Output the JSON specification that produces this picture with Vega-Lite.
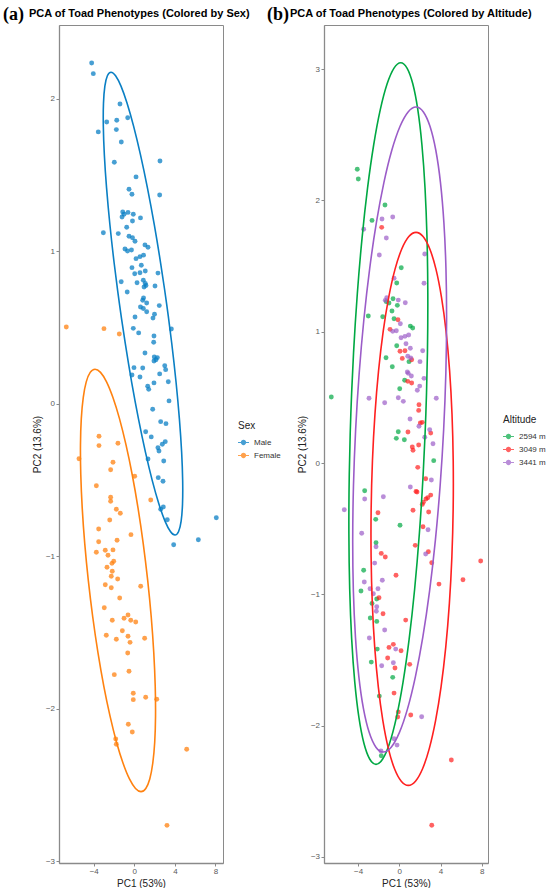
{
  "$schema": "https://vega.github.io/schema/vega-lite/v6.json",
  "autosize": {"type": "pad"},
  "padding": {"left": 3, "top": 5, "right": 5, "bottom": 4},
  "spacing": -14,
  "bounds": "full",
  "datasets": {
    "sexpts": [
      {"x": -4.20, "y": 2.236, "sex": "Male"}, {"x": -4.04, "y": 2.166, "sex": "Male"}, {"x": -1.41, "y": 1.967, "sex": "Male"},
      {"x": -2.72, "y": 1.849, "sex": "Male"}, {"x": -1.73, "y": 1.860, "sex": "Male"}, {"x": -0.65, "y": 1.877, "sex": "Male"},
      {"x": -3.55, "y": 1.784, "sex": "Male"}, {"x": -1.77, "y": 1.799, "sex": "Male"}, {"x": -1.28, "y": 1.718, "sex": "Male"},
      {"x": -1.97, "y": 1.585, "sex": "Male"}, {"x": 2.53, "y": 1.593, "sex": "Male"}, {"x": 0.17, "y": 1.489, "sex": "Male"},
      {"x": -0.52, "y": 1.408, "sex": "Male"}, {"x": -0.23, "y": 1.375, "sex": "Male"}, {"x": 2.50, "y": 1.370, "sex": "Male"},
      {"x": -1.14, "y": 1.259, "sex": "Male"}, {"x": -1.21, "y": 1.226, "sex": "Male"}, {"x": -1.01, "y": 1.244, "sex": "Male"},
      {"x": -0.62, "y": 1.256, "sex": "Male"}, {"x": -0.10, "y": 1.244, "sex": "Male"}, {"x": 0.61, "y": 1.220, "sex": "Male"},
      {"x": -0.18, "y": 1.200, "sex": "Male"}, {"x": -3.05, "y": 1.123, "sex": "Male"}, {"x": -1.58, "y": 1.117, "sex": "Male"},
      {"x": -0.75, "y": 1.159, "sex": "Male"}, {"x": -0.52, "y": 1.100, "sex": "Male"}, {"x": -0.18, "y": 1.090, "sex": "Male"},
      {"x": 0.07, "y": 1.067, "sex": "Male"}, {"x": -0.92, "y": 1.016, "sex": "Male"}, {"x": -0.67, "y": 1.003, "sex": "Male"},
      {"x": -0.28, "y": 1.010, "sex": "Male"}, {"x": 1.05, "y": 1.043, "sex": "Male"}, {"x": 1.35, "y": 1.028, "sex": "Male"},
      {"x": 0.17, "y": 0.953, "sex": "Male"}, {"x": 0.56, "y": 0.966, "sex": "Male"}, {"x": 0.91, "y": 0.976, "sex": "Male"},
      {"x": -0.23, "y": 0.894, "sex": "Male"}, {"x": 0.69, "y": 0.910, "sex": "Male"}, {"x": 0.04, "y": 0.854, "sex": "Male"},
      {"x": 0.56, "y": 0.860, "sex": "Male"}, {"x": 1.08, "y": 0.872, "sex": "Male"}, {"x": 2.33, "y": 0.858, "sex": "Male"},
      {"x": -1.29, "y": 0.801, "sex": "Male"}, {"x": 0.27, "y": 0.795, "sex": "Male"}, {"x": 0.89, "y": 0.811, "sex": "Male"},
      {"x": 1.08, "y": 0.790, "sex": "Male"}, {"x": 1.15, "y": 0.777, "sex": "Male"}, {"x": 0.96, "y": 0.767, "sex": "Male"},
      {"x": 2.04, "y": 0.774, "sex": "Male"}, {"x": -0.70, "y": 0.734, "sex": "Male"}, {"x": 0.91, "y": 0.695, "sex": "Male"},
      {"x": 0.83, "y": 0.680, "sex": "Male"}, {"x": 1.22, "y": 0.662, "sex": "Male"}, {"x": 2.46, "y": 0.645, "sex": "Male"},
      {"x": 0.61, "y": 0.636, "sex": "Male"}, {"x": 0.89, "y": 0.626, "sex": "Male"}, {"x": 1.22, "y": 0.605, "sex": "Male"},
      {"x": 1.99, "y": 0.588, "sex": "Male"}, {"x": 1.84, "y": 0.563, "sex": "Male"}, {"x": 0.07, "y": 0.570, "sex": "Male"},
      {"x": -0.10, "y": 0.496, "sex": "Male"}, {"x": 0.43, "y": 0.466, "sex": "Male"}, {"x": 3.65, "y": 0.492, "sex": "Male"},
      {"x": 1.94, "y": 0.446, "sex": "Male"}, {"x": 1.91, "y": 0.405, "sex": "Male"}, {"x": 1.05, "y": 0.334, "sex": "Male"},
      {"x": 1.97, "y": 0.308, "sex": "Male"}, {"x": 2.27, "y": 0.304, "sex": "Male"}, {"x": 1.94, "y": 0.282, "sex": "Male"},
      {"x": 2.14, "y": 0.290, "sex": "Male"}, {"x": 3.00, "y": 0.251, "sex": "Male"}, {"x": 3.09, "y": 0.225, "sex": "Male"},
      {"x": -0.03, "y": 0.238, "sex": "Male"}, {"x": 0.83, "y": 0.236, "sex": "Male"}, {"x": -0.23, "y": 0.190, "sex": "Male"},
      {"x": 0.56, "y": 0.177, "sex": "Male"}, {"x": 2.50, "y": 0.197, "sex": "Male"}, {"x": 1.94, "y": 0.138, "sex": "Male"},
      {"x": 3.35, "y": 0.146, "sex": "Male"}, {"x": 1.32, "y": 0.116, "sex": "Male"}, {"x": 1.42, "y": 0.096, "sex": "Male"},
      {"x": 3.42, "y": 0.020, "sex": "Male"}, {"x": 1.81, "y": -0.035, "sex": "Male"}, {"x": 2.60, "y": -0.116, "sex": "Male"},
      {"x": 3.12, "y": -0.129, "sex": "Male"}, {"x": 1.12, "y": -0.182, "sex": "Male"}, {"x": 1.67, "y": -0.216, "sex": "Male"},
      {"x": 3.05, "y": -0.247, "sex": "Male"}, {"x": 2.76, "y": -0.264, "sex": "Male"}, {"x": 2.33, "y": -0.287, "sex": "Male"},
      {"x": 2.43, "y": -0.308, "sex": "Male"}, {"x": 1.35, "y": -0.361, "sex": "Male"}, {"x": 2.90, "y": -0.374, "sex": "Male"},
      {"x": 2.36, "y": -0.483, "sex": "Male"}, {"x": 2.83, "y": -0.507, "sex": "Male"}, {"x": 2.86, "y": -0.675, "sex": "Male"},
      {"x": 2.60, "y": -0.690, "sex": "Male"}, {"x": 3.25, "y": -0.759, "sex": "Male"}, {"x": 3.88, "y": -0.923, "sex": "Male"},
      {"x": 6.31, "y": -0.890, "sex": "Male"}, {"x": 8.08, "y": -0.746, "sex": "Male"},
      {"x": -6.70, "y": 0.505, "sex": "Female"}, {"x": -2.99, "y": 0.494, "sex": "Female"}, {"x": -1.48, "y": 0.459, "sex": "Female"},
      {"x": -3.48, "y": -0.212, "sex": "Female"}, {"x": -3.48, "y": -0.273, "sex": "Female"}, {"x": -1.61, "y": -0.258, "sex": "Female"},
      {"x": -5.45, "y": -0.359, "sex": "Female"}, {"x": -2.10, "y": -0.382, "sex": "Female"}, {"x": -2.33, "y": -0.431, "sex": "Female"},
      {"x": 0.04, "y": -0.474, "sex": "Female"}, {"x": -3.74, "y": -0.536, "sex": "Female"}, {"x": -2.33, "y": -0.612, "sex": "Female"},
      {"x": -2.33, "y": -0.638, "sex": "Female"}, {"x": 1.62, "y": -0.630, "sex": "Female"}, {"x": -1.77, "y": -0.690, "sex": "Female"},
      {"x": -1.38, "y": -0.717, "sex": "Female"}, {"x": -2.42, "y": -0.761, "sex": "Female"}, {"x": -3.51, "y": -0.820, "sex": "Female"},
      {"x": -0.33, "y": -0.857, "sex": "Female"}, {"x": -3.51, "y": -0.903, "sex": "Female"}, {"x": -1.70, "y": -0.894, "sex": "Female"},
      {"x": -3.74, "y": -0.972, "sex": "Female"}, {"x": -2.86, "y": -0.959, "sex": "Female"}, {"x": -2.10, "y": -0.957, "sex": "Female"},
      {"x": -2.59, "y": -0.992, "sex": "Female"}, {"x": -2.03, "y": -1.031, "sex": "Female"}, {"x": -2.20, "y": -1.045, "sex": "Female"},
      {"x": -2.69, "y": -1.071, "sex": "Female"}, {"x": -2.17, "y": -1.097, "sex": "Female"}, {"x": -2.27, "y": -1.130, "sex": "Female"},
      {"x": -1.64, "y": -1.148, "sex": "Female"}, {"x": -2.86, "y": -1.185, "sex": "Female"}, {"x": -2.27, "y": -1.205, "sex": "Female"},
      {"x": 0.63, "y": -1.195, "sex": "Female"}, {"x": -1.44, "y": -1.272, "sex": "Female"}, {"x": -2.96, "y": -1.336, "sex": "Female"},
      {"x": -0.62, "y": -1.384, "sex": "Female"}, {"x": -1.01, "y": -1.405, "sex": "Female"}, {"x": -0.35, "y": -1.418, "sex": "Female"},
      {"x": 0.14, "y": -1.430, "sex": "Female"}, {"x": -2.17, "y": -1.418, "sex": "Female"}, {"x": -1.18, "y": -1.487, "sex": "Female"},
      {"x": -2.76, "y": -1.517, "sex": "Female"}, {"x": -1.77, "y": -1.543, "sex": "Female"}, {"x": -0.62, "y": -1.523, "sex": "Female"},
      {"x": -0.42, "y": -1.563, "sex": "Female"}, {"x": 1.02, "y": -1.536, "sex": "Female"}, {"x": -0.65, "y": -1.633, "sex": "Female"},
      {"x": -0.52, "y": -1.753, "sex": "Female"}, {"x": -1.97, "y": -1.775, "sex": "Female"}, {"x": -0.10, "y": -1.897, "sex": "Female"},
      {"x": -0.10, "y": -1.939, "sex": "Female"}, {"x": 1.12, "y": -1.923, "sex": "Female"}, {"x": 2.21, "y": -1.936, "sex": "Female"},
      {"x": -0.59, "y": -2.100, "sex": "Female"}, {"x": -0.20, "y": -2.151, "sex": "Female"}, {"x": -1.83, "y": -2.197, "sex": "Female"},
      {"x": -1.77, "y": -2.231, "sex": "Female"}, {"x": 5.16, "y": -2.264, "sex": "Female"}, {"x": 3.22, "y": -2.763, "sex": "Female"}
    ],
    "sexell": [
      {"sex": "Male", "t": 0, "x": -2.296, "y": 2.175}, {"sex": "Male", "t": 10, "x": -1.844, "y": 2.152},
      {"sex": "Male", "t": 20, "x": -1.311, "y": 2.084}, {"sex": "Male", "t": 30, "x": -0.711, "y": 1.972},
      {"sex": "Male", "t": 40, "x": -0.064, "y": 1.820}, {"sex": "Male", "t": 50, "x": 0.611, "y": 1.633},
      {"sex": "Male", "t": 60, "x": 1.293, "y": 1.417}, {"sex": "Male", "t": 70, "x": 1.964, "y": 1.177},
      {"sex": "Male", "t": 80, "x": 2.600, "y": 0.921}, {"sex": "Male", "t": 90, "x": 3.182, "y": 0.658},
      {"sex": "Male", "t": 100, "x": 3.694, "y": 0.395}, {"sex": "Male", "t": 110, "x": 4.120, "y": 0.139},
      {"sex": "Male", "t": 120, "x": 4.447, "y": -0.101}, {"sex": "Male", "t": 130, "x": 4.665, "y": -0.317},
      {"sex": "Male", "t": 140, "x": 4.766, "y": -0.504}, {"sex": "Male", "t": 150, "x": 4.751, "y": -0.656},
      {"sex": "Male", "t": 160, "x": 4.615, "y": -0.768}, {"sex": "Male", "t": 170, "x": 4.366, "y": -0.836},
      {"sex": "Male", "t": 180, "x": 4.010, "y": -0.859}, {"sex": "Male", "t": 190, "x": 3.558, "y": -0.836},
      {"sex": "Male", "t": 200, "x": 3.025, "y": -0.768}, {"sex": "Male", "t": 210, "x": 2.425, "y": -0.656},
      {"sex": "Male", "t": 220, "x": 1.778, "y": -0.504}, {"sex": "Male", "t": 230, "x": 1.103, "y": -0.317},
      {"sex": "Male", "t": 240, "x": 0.421, "y": -0.101}, {"sex": "Male", "t": 250, "x": -0.250, "y": 0.139},
      {"sex": "Male", "t": 260, "x": -0.886, "y": 0.395}, {"sex": "Male", "t": 270, "x": -1.468, "y": 0.658},
      {"sex": "Male", "t": 280, "x": -1.980, "y": 0.921}, {"sex": "Male", "t": 290, "x": -2.406, "y": 1.177},
      {"sex": "Male", "t": 300, "x": -2.733, "y": 1.417}, {"sex": "Male", "t": 310, "x": -2.951, "y": 1.633},
      {"sex": "Male", "t": 320, "x": -3.052, "y": 1.820}, {"sex": "Male", "t": 330, "x": -3.037, "y": 1.972},
      {"sex": "Male", "t": 340, "x": -2.901, "y": 2.084}, {"sex": "Male", "t": 350, "x": -2.652, "y": 2.152},
      {"sex": "Female", "t": 0, "x": -3.872, "y": 0.228}, {"sex": "Female", "t": 10, "x": -3.330, "y": 0.207},
      {"sex": "Female", "t": 20, "x": -2.734, "y": 0.145}, {"sex": "Female", "t": 30, "x": -2.105, "y": 0.042},
      {"sex": "Female", "t": 40, "x": -1.461, "y": -0.096}, {"sex": "Female", "t": 50, "x": -0.822, "y": -0.267},
      {"sex": "Female", "t": 60, "x": -0.205, "y": -0.464}, {"sex": "Female", "t": 70, "x": 0.369, "y": -0.683},
      {"sex": "Female", "t": 80, "x": 0.883, "y": -0.917}, {"sex": "Female", "t": 90, "x": 1.320, "y": -1.157},
      {"sex": "Female", "t": 100, "x": 1.669, "y": -1.397}, {"sex": "Female", "t": 110, "x": 1.919, "y": -1.631},
      {"sex": "Female", "t": 120, "x": 2.061, "y": -1.850}, {"sex": "Female", "t": 130, "x": 2.092, "y": -2.047},
      {"sex": "Female", "t": 140, "x": 2.011, "y": -2.218}, {"sex": "Female", "t": 150, "x": 1.819, "y": -2.356},
      {"sex": "Female", "t": 160, "x": 1.524, "y": -2.459}, {"sex": "Female", "t": 170, "x": 1.134, "y": -2.521},
      {"sex": "Female", "t": 180, "x": 0.660, "y": -2.542}, {"sex": "Female", "t": 190, "x": 0.118, "y": -2.521},
      {"sex": "Female", "t": 200, "x": -0.478, "y": -2.459}, {"sex": "Female", "t": 210, "x": -1.107, "y": -2.356},
      {"sex": "Female", "t": 220, "x": -1.751, "y": -2.218}, {"sex": "Female", "t": 230, "x": -2.390, "y": -2.047},
      {"sex": "Female", "t": 240, "x": -3.007, "y": -1.850}, {"sex": "Female", "t": 250, "x": -3.581, "y": -1.631},
      {"sex": "Female", "t": 260, "x": -4.095, "y": -1.397}, {"sex": "Female", "t": 270, "x": -4.532, "y": -1.157},
      {"sex": "Female", "t": 280, "x": -4.881, "y": -0.917}, {"sex": "Female", "t": 290, "x": -5.131, "y": -0.683},
      {"sex": "Female", "t": 300, "x": -5.273, "y": -0.464}, {"sex": "Female", "t": 310, "x": -5.304, "y": -0.267},
      {"sex": "Female", "t": 320, "x": -5.223, "y": -0.096}, {"sex": "Female", "t": 330, "x": -5.031, "y": 0.042},
      {"sex": "Female", "t": 340, "x": -4.736, "y": 0.145}, {"sex": "Female", "t": 350, "x": -4.346, "y": 0.207}
    ],
    "altpts": [
      {"x": -4.08, "y": 2.237, "alt": "2594 m"}, {"x": -3.98, "y": 2.163, "alt": "2594 m"}, {"x": -1.39, "y": 1.965, "alt": "2594 m"},
      {"x": -2.65, "y": 1.848, "alt": "2594 m"}, {"x": 0.19, "y": 1.487, "alt": "2594 m"}, {"x": -0.25, "y": 1.371, "alt": "2594 m"},
      {"x": -0.61, "y": 1.251, "alt": "2594 m"}, {"x": -1.26, "y": 1.229, "alt": "2594 m"}, {"x": -1.00, "y": 1.219, "alt": "2594 m"},
      {"x": -0.19, "y": 1.201, "alt": "2594 m"}, {"x": -3.01, "y": 1.120, "alt": "2594 m"}, {"x": -0.71, "y": 1.158, "alt": "2594 m"},
      {"x": -1.61, "y": 1.114, "alt": "2594 m"}, {"x": -0.51, "y": 1.099, "alt": "2594 m"}, {"x": 1.07, "y": 1.043, "alt": "2594 m"},
      {"x": 1.30, "y": 1.028, "alt": "2594 m"}, {"x": -0.25, "y": 0.893, "alt": "2594 m"}, {"x": -1.29, "y": 0.802, "alt": "2594 m"},
      {"x": 0.94, "y": 0.772, "alt": "2594 m"}, {"x": -0.68, "y": 0.733, "alt": "2594 m"}, {"x": 0.52, "y": 0.630, "alt": "2594 m"},
      {"x": 0.04, "y": 0.566, "alt": "2594 m"}, {"x": -6.60, "y": 0.503, "alt": "2594 m"}, {"x": -0.10, "y": 0.238, "alt": "2594 m"},
      {"x": -0.29, "y": 0.188, "alt": "2594 m"}, {"x": 0.49, "y": 0.177, "alt": "2594 m"}, {"x": 3.34, "y": 0.018, "alt": "2594 m"},
      {"x": -3.36, "y": -0.211, "alt": "2594 m"}, {"x": -2.29, "y": -0.429, "alt": "2594 m"}, {"x": 0.07, "y": -0.474, "alt": "2594 m"},
      {"x": -2.26, "y": -0.607, "alt": "2594 m"}, {"x": -3.46, "y": -0.817, "alt": "2594 m"}, {"x": -3.72, "y": -0.975, "alt": "2594 m"},
      {"x": -2.19, "y": -1.036, "alt": "2594 m"}, {"x": -2.65, "y": -1.069, "alt": "2594 m"}, {"x": -2.82, "y": -1.180, "alt": "2594 m"},
      {"x": -2.19, "y": -1.206, "alt": "2594 m"}, {"x": -2.14, "y": -1.417, "alt": "2594 m"}, {"x": -2.72, "y": -1.516, "alt": "2594 m"},
      {"x": -0.64, "y": -1.632, "alt": "2594 m"}, {"x": -1.94, "y": -1.775, "alt": "2594 m"}, {"x": -1.75, "y": -2.229, "alt": "2594 m"},
      {"x": -1.71, "y": 1.795, "alt": "3049 m"}, {"x": -0.13, "y": 1.091, "alt": "3049 m"}, {"x": -0.90, "y": 1.018, "alt": "3049 m"},
      {"x": 0.07, "y": 0.851, "alt": "3049 m"}, {"x": 0.55, "y": 0.855, "alt": "3049 m"}, {"x": 0.29, "y": 0.797, "alt": "3049 m"},
      {"x": 1.20, "y": 0.787, "alt": "3049 m"}, {"x": 0.82, "y": 0.622, "alt": "3049 m"}, {"x": 1.20, "y": 0.609, "alt": "3049 m"},
      {"x": 1.91, "y": 0.444, "alt": "3049 m"}, {"x": 1.88, "y": 0.401, "alt": "3049 m"}, {"x": 2.04, "y": 0.305, "alt": "3049 m"},
      {"x": 2.23, "y": 0.310, "alt": "3049 m"}, {"x": 0.84, "y": 0.236, "alt": "3049 m"}, {"x": 3.05, "y": 0.228, "alt": "3049 m"},
      {"x": 1.88, "y": 0.137, "alt": "3049 m"}, {"x": 1.26, "y": 0.122, "alt": "3049 m"}, {"x": 1.33, "y": 0.097, "alt": "3049 m"},
      {"x": 1.79, "y": -0.033, "alt": "3049 m"}, {"x": 2.56, "y": -0.120, "alt": "3049 m"}, {"x": 1.62, "y": -0.216, "alt": "3049 m"},
      {"x": 1.72, "y": -0.221, "alt": "3049 m"}, {"x": 3.05, "y": -0.244, "alt": "3049 m"}, {"x": 2.76, "y": -0.264, "alt": "3049 m"},
      {"x": 2.59, "y": -0.274, "alt": "3049 m"}, {"x": 2.33, "y": -0.299, "alt": "3049 m"}, {"x": 2.23, "y": -0.315, "alt": "3049 m"},
      {"x": 1.33, "y": -0.360, "alt": "3049 m"}, {"x": -2.07, "y": -0.379, "alt": "3049 m"}, {"x": 2.85, "y": -0.373, "alt": "3049 m"},
      {"x": 2.30, "y": -0.485, "alt": "3049 m"}, {"x": 1.55, "y": -0.627, "alt": "3049 m"}, {"x": -1.75, "y": -0.688, "alt": "3049 m"},
      {"x": -1.36, "y": -0.716, "alt": "3049 m"}, {"x": 2.82, "y": -0.676, "alt": "3049 m"}, {"x": 3.15, "y": -0.759, "alt": "3049 m"},
      {"x": 7.90, "y": -0.746, "alt": "3049 m"}, {"x": -0.32, "y": -0.855, "alt": "3049 m"}, {"x": 6.18, "y": -0.889, "alt": "3049 m"},
      {"x": 3.85, "y": -0.922, "alt": "3049 m"}, {"x": -1.97, "y": -1.026, "alt": "3049 m"}, {"x": -1.58, "y": -1.148, "alt": "3049 m"},
      {"x": 0.62, "y": -1.196, "alt": "3049 m"}, {"x": -0.58, "y": -1.381, "alt": "3049 m"}, {"x": -1.00, "y": -1.404, "alt": "3049 m"},
      {"x": 0.17, "y": -1.430, "alt": "3049 m"}, {"x": -1.13, "y": -1.485, "alt": "3049 m"}, {"x": 1.01, "y": -1.533, "alt": "3049 m"},
      {"x": -0.42, "y": -1.561, "alt": "3049 m"}, {"x": -0.51, "y": -1.752, "alt": "3049 m"}, {"x": -0.10, "y": -1.896, "alt": "3049 m"},
      {"x": -0.16, "y": -1.934, "alt": "3049 m"}, {"x": 1.11, "y": -1.919, "alt": "3049 m"}, {"x": 5.05, "y": -2.262, "alt": "3049 m"},
      {"x": 3.15, "y": -2.759, "alt": "3049 m"},
      {"x": -1.68, "y": 1.858, "alt": "3441 m"}, {"x": -0.64, "y": 1.874, "alt": "3441 m"}, {"x": -3.46, "y": 1.780, "alt": "3441 m"},
      {"x": -1.26, "y": 1.714, "alt": "3441 m"}, {"x": -1.94, "y": 1.584, "alt": "3441 m"}, {"x": 2.47, "y": 1.592, "alt": "3441 m"},
      {"x": -0.51, "y": 1.407, "alt": "3441 m"}, {"x": 2.40, "y": 1.369, "alt": "3441 m"}, {"x": -1.22, "y": 1.259, "alt": "3441 m"},
      {"x": -1.36, "y": 1.239, "alt": "3441 m"}, {"x": -0.10, "y": 1.241, "alt": "3441 m"}, {"x": 0.58, "y": 1.221, "alt": "3441 m"},
      {"x": 0.10, "y": 1.061, "alt": "3441 m"}, {"x": -0.64, "y": 1.003, "alt": "3441 m"}, {"x": -0.29, "y": 1.008, "alt": "3441 m"},
      {"x": 0.17, "y": 0.954, "alt": "3441 m"}, {"x": 0.55, "y": 0.965, "alt": "3441 m"}, {"x": 0.91, "y": 0.975, "alt": "3441 m"},
      {"x": 0.65, "y": 0.909, "alt": "3441 m"}, {"x": 1.07, "y": 0.874, "alt": "3441 m"}, {"x": 2.27, "y": 0.855, "alt": "3441 m"},
      {"x": 0.82, "y": 0.813, "alt": "3441 m"}, {"x": 1.11, "y": 0.800, "alt": "3441 m"}, {"x": 2.01, "y": 0.772, "alt": "3441 m"},
      {"x": 0.78, "y": 0.693, "alt": "3441 m"}, {"x": 0.87, "y": 0.683, "alt": "3441 m"}, {"x": 1.17, "y": 0.663, "alt": "3441 m"},
      {"x": 2.40, "y": 0.645, "alt": "3441 m"}, {"x": 1.98, "y": 0.586, "alt": "3441 m"}, {"x": 1.75, "y": 0.554, "alt": "3441 m"},
      {"x": -2.94, "y": 0.493, "alt": "3441 m"}, {"x": -0.10, "y": 0.497, "alt": "3441 m"}, {"x": 3.59, "y": 0.493, "alt": "3441 m"},
      {"x": -1.42, "y": 0.459, "alt": "3441 m"}, {"x": 0.39, "y": 0.470, "alt": "3441 m"}, {"x": 1.04, "y": 0.335, "alt": "3441 m"},
      {"x": 1.91, "y": 0.280, "alt": "3441 m"}, {"x": 2.95, "y": 0.254, "alt": "3441 m"}, {"x": 2.47, "y": 0.196, "alt": "3441 m"},
      {"x": 3.27, "y": 0.147, "alt": "3441 m"}, {"x": 3.11, "y": -0.129, "alt": "3441 m"}, {"x": 1.07, "y": -0.183, "alt": "3441 m"},
      {"x": -1.55, "y": -0.257, "alt": "3441 m"}, {"x": -3.36, "y": -0.274, "alt": "3441 m"}, {"x": -5.34, "y": -0.356, "alt": "3441 m"},
      {"x": 2.79, "y": -0.508, "alt": "3441 m"}, {"x": -3.65, "y": -0.535, "alt": "3441 m"}, {"x": -2.26, "y": -0.637, "alt": "3441 m"},
      {"x": 2.56, "y": -0.693, "alt": "3441 m"}, {"x": -2.39, "y": -0.762, "alt": "3441 m"}, {"x": -1.65, "y": -0.893, "alt": "3441 m"},
      {"x": -3.40, "y": -0.906, "alt": "3441 m"}, {"x": -2.84, "y": -0.957, "alt": "3441 m"}, {"x": -2.07, "y": -0.957, "alt": "3441 m"},
      {"x": -2.52, "y": -0.995, "alt": "3441 m"}, {"x": -2.19, "y": -1.094, "alt": "3441 m"}, {"x": -2.23, "y": -1.129, "alt": "3441 m"},
      {"x": -1.42, "y": -1.272, "alt": "3441 m"}, {"x": -2.91, "y": -1.333, "alt": "3441 m"}, {"x": -0.35, "y": -1.417, "alt": "3441 m"},
      {"x": -0.58, "y": -1.521, "alt": "3441 m"}, {"x": -1.71, "y": -1.544, "alt": "3441 m"}, {"x": 2.17, "y": -1.932, "alt": "3441 m"},
      {"x": -0.51, "y": -2.100, "alt": "3441 m"}, {"x": -0.22, "y": -2.148, "alt": "3441 m"}, {"x": -1.78, "y": -2.193, "alt": "3441 m"}
    ],
    "altell": [
      {"alt": "2594 m", "t": 0, "x": 0.136, "y": 3.049}, {"alt": "2594 m", "t": 10, "x": 0.750, "y": 3.008},
      {"alt": "2594 m", "t": 20, "x": 1.309, "y": 2.888}, {"alt": "2594 m", "t": 30, "x": 1.796, "y": 2.691},
      {"alt": "2594 m", "t": 40, "x": 2.195, "y": 2.424}, {"alt": "2594 m", "t": 50, "x": 2.497, "y": 2.095},
      {"alt": "2594 m", "t": 60, "x": 2.690, "y": 1.713}, {"alt": "2594 m", "t": 70, "x": 2.768, "y": 1.291},
      {"alt": "2594 m", "t": 80, "x": 2.731, "y": 0.841}, {"alt": "2594 m", "t": 90, "x": 2.578, "y": 0.377},
      {"alt": "2594 m", "t": 100, "x": 2.315, "y": -0.087}, {"alt": "2594 m", "t": 110, "x": 1.948, "y": -0.537},
      {"alt": "2594 m", "t": 120, "x": 1.490, "y": -0.959}, {"alt": "2594 m", "t": 130, "x": 0.955, "y": -1.341},
      {"alt": "2594 m", "t": 140, "x": 0.359, "y": -1.670}, {"alt": "2594 m", "t": 150, "x": -0.280, "y": -1.937},
      {"alt": "2594 m", "t": 160, "x": -0.945, "y": -2.134}, {"alt": "2594 m", "t": 170, "x": -1.612, "y": -2.254},
      {"alt": "2594 m", "t": 180, "x": -2.262, "y": -2.295}, {"alt": "2594 m", "t": 190, "x": -2.876, "y": -2.254},
      {"alt": "2594 m", "t": 200, "x": -3.435, "y": -2.134}, {"alt": "2594 m", "t": 210, "x": -3.922, "y": -1.937},
      {"alt": "2594 m", "t": 220, "x": -4.321, "y": -1.670}, {"alt": "2594 m", "t": 230, "x": -4.623, "y": -1.341},
      {"alt": "2594 m", "t": 240, "x": -4.816, "y": -0.959}, {"alt": "2594 m", "t": 250, "x": -4.894, "y": -0.537},
      {"alt": "2594 m", "t": 260, "x": -4.857, "y": -0.087}, {"alt": "2594 m", "t": 270, "x": -4.704, "y": 0.377},
      {"alt": "2594 m", "t": 280, "x": -4.441, "y": 0.841}, {"alt": "2594 m", "t": 290, "x": -4.074, "y": 1.291},
      {"alt": "2594 m", "t": 300, "x": -3.616, "y": 1.713}, {"alt": "2594 m", "t": 310, "x": -3.081, "y": 2.095},
      {"alt": "2594 m", "t": 320, "x": -2.485, "y": 2.424}, {"alt": "2594 m", "t": 330, "x": -1.846, "y": 2.691},
      {"alt": "2594 m", "t": 340, "x": -1.181, "y": 2.888}, {"alt": "2594 m", "t": 350, "x": -0.514, "y": 3.008},
      {"alt": "3049 m", "t": 0, "x": 1.622, "y": 1.757}, {"alt": "3049 m", "t": 10, "x": 2.307, "y": 1.725},
      {"alt": "3049 m", "t": 20, "x": 2.961, "y": 1.630}, {"alt": "3049 m", "t": 30, "x": 3.563, "y": 1.475},
      {"alt": "3049 m", "t": 40, "x": 4.093, "y": 1.264}, {"alt": "3049 m", "t": 50, "x": 4.537, "y": 1.005},
      {"alt": "3049 m", "t": 60, "x": 4.883, "y": 0.704}, {"alt": "3049 m", "t": 70, "x": 5.117, "y": 0.371},
      {"alt": "3049 m", "t": 80, "x": 5.233, "y": 0.017}, {"alt": "3049 m", "t": 90, "x": 5.229, "y": -0.349},
      {"alt": "3049 m", "t": 100, "x": 5.103, "y": -0.715}, {"alt": "3049 m", "t": 110, "x": 4.861, "y": -1.069},
      {"alt": "3049 m", "t": 120, "x": 4.509, "y": -1.402}, {"alt": "3049 m", "t": 130, "x": 4.057, "y": -1.703},
      {"alt": "3049 m", "t": 140, "x": 3.521, "y": -1.962}, {"alt": "3049 m", "t": 150, "x": 2.915, "y": -2.173},
      {"alt": "3049 m", "t": 160, "x": 2.259, "y": -2.328}, {"alt": "3049 m", "t": 170, "x": 1.571, "y": -2.423},
      {"alt": "3049 m", "t": 180, "x": 0.874, "y": -2.455}, {"alt": "3049 m", "t": 190, "x": 0.189, "y": -2.423},
      {"alt": "3049 m", "t": 200, "x": -0.465, "y": -2.328}, {"alt": "3049 m", "t": 210, "x": -1.067, "y": -2.173},
      {"alt": "3049 m", "t": 220, "x": -1.597, "y": -1.962}, {"alt": "3049 m", "t": 230, "x": -2.041, "y": -1.703},
      {"alt": "3049 m", "t": 240, "x": -2.387, "y": -1.402}, {"alt": "3049 m", "t": 250, "x": -2.621, "y": -1.069},
      {"alt": "3049 m", "t": 260, "x": -2.737, "y": -0.715}, {"alt": "3049 m", "t": 270, "x": -2.733, "y": -0.349},
      {"alt": "3049 m", "t": 280, "x": -2.607, "y": 0.017}, {"alt": "3049 m", "t": 290, "x": -2.365, "y": 0.371},
      {"alt": "3049 m", "t": 300, "x": -2.013, "y": 0.704}, {"alt": "3049 m", "t": 310, "x": -1.561, "y": 1.005},
      {"alt": "3049 m", "t": 320, "x": -1.025, "y": 1.264}, {"alt": "3049 m", "t": 330, "x": -0.419, "y": 1.475},
      {"alt": "3049 m", "t": 340, "x": 0.237, "y": 1.630}, {"alt": "3049 m", "t": 350, "x": 0.925, "y": 1.725},
      {"alt": "3441 m", "t": 0, "x": 1.621, "y": 2.711}, {"alt": "3441 m", "t": 10, "x": 2.339, "y": 2.674},
      {"alt": "3441 m", "t": 20, "x": 2.986, "y": 2.563}, {"alt": "3441 m", "t": 30, "x": 3.544, "y": 2.382},
      {"alt": "3441 m", "t": 40, "x": 3.996, "y": 2.136}, {"alt": "3441 m", "t": 50, "x": 4.326, "y": 1.834},
      {"alt": "3441 m", "t": 60, "x": 4.528, "y": 1.483}, {"alt": "3441 m", "t": 70, "x": 4.591, "y": 1.095},
      {"alt": "3441 m", "t": 80, "x": 4.517, "y": 0.681}, {"alt": "3441 m", "t": 90, "x": 4.306, "y": 0.255},
      {"alt": "3441 m", "t": 100, "x": 3.965, "y": -0.171}, {"alt": "3441 m", "t": 110, "x": 3.505, "y": -0.585},
      {"alt": "3441 m", "t": 120, "x": 2.940, "y": -0.973}, {"alt": "3441 m", "t": 130, "x": 2.286, "y": -1.324},
      {"alt": "3441 m", "t": 140, "x": 1.564, "y": -1.626}, {"alt": "3441 m", "t": 150, "x": 0.796, "y": -1.872},
      {"alt": "3441 m", "t": 160, "x": 0.004, "y": -2.053}, {"alt": "3441 m", "t": 170, "x": -0.787, "y": -2.164},
      {"alt": "3441 m", "t": 180, "x": -1.553, "y": -2.201}, {"alt": "3441 m", "t": 190, "x": -2.271, "y": -2.164},
      {"alt": "3441 m", "t": 200, "x": -2.918, "y": -2.053}, {"alt": "3441 m", "t": 210, "x": -3.476, "y": -1.872},
      {"alt": "3441 m", "t": 220, "x": -3.928, "y": -1.626}, {"alt": "3441 m", "t": 230, "x": -4.258, "y": -1.324},
      {"alt": "3441 m", "t": 240, "x": -4.460, "y": -0.973}, {"alt": "3441 m", "t": 250, "x": -4.523, "y": -0.585},
      {"alt": "3441 m", "t": 260, "x": -4.449, "y": -0.171}, {"alt": "3441 m", "t": 270, "x": -4.238, "y": 0.255},
      {"alt": "3441 m", "t": 280, "x": -3.897, "y": 0.681}, {"alt": "3441 m", "t": 290, "x": -3.437, "y": 1.095},
      {"alt": "3441 m", "t": 300, "x": -2.872, "y": 1.483}, {"alt": "3441 m", "t": 310, "x": -2.218, "y": 1.834},
      {"alt": "3441 m", "t": 320, "x": -1.496, "y": 2.136}, {"alt": "3441 m", "t": 330, "x": -0.728, "y": 2.382},
      {"alt": "3441 m", "t": 340, "x": 0.064, "y": 2.563}, {"alt": "3441 m", "t": 350, "x": 0.855, "y": 2.674}
    ]
  },
  "hconcat": [
    {
      "title": {"text": "(a)", "anchor": "start", "frame": "group", "dx": -56, "dy": 16,
        "font": "Liberation Serif", "fontSize": 18, "fontWeight": "bold", "color": "#000000", "offset": 0},
      "vconcat": [
        {
          "width": 164,
          "height": 838,
          "title": {"text": "PCA of Toad Phenotypes (Colored by Sex)", "anchor": "start", "frame": "group",
            "dx": -30, "offset": 6, "font": "Liberation Sans", "fontSize": 11, "fontWeight": "bold", "color": "#000000"},
          "layer": [
            {
              "data": {"name": "sexpts"},
              "mark": {"type": "circle", "size": 24, "opacity": 0.75},
              "encoding": {
                "x": {"field": "x", "type": "quantitative", "title": "PC1 (53%)",
                  "scale": {"domain": [-7.42, 8.74], "nice": false, "zero": false},
                  "axis": {"values": [-4, 0, 4, 8], "format": "d"}},
                "y": {"field": "y", "type": "quantitative", "title": "PC2 (13.6%)",
                  "scale": {"domain": [-3.01, 2.485], "nice": false, "zero": false},
                  "axis": {"values": [-3, -2, -1, 0, 1, 2], "format": "d"}},
                "color": {"field": "sex", "type": "nominal",
                  "scale": {"domain": ["Male", "Female"], "range": ["#0a7fc4", "#ff8210"]},
                  "legend": {"title": "Sex", "orient": "none", "legendX": 179, "legendY": 396}}
              }
            },
            {
              "data": {"name": "sexell"},
              "mark": {"type": "line", "interpolate": "cardinal-closed", "strokeWidth": 1.6},
              "encoding": {
                "x": {"field": "x", "type": "quantitative"},
                "y": {"field": "y", "type": "quantitative"},
                "color": {"field": "sex", "type": "nominal", "legend": null},
                "order": {"field": "t", "type": "quantitative"}
              }
            }
          ]
        }
      ]
    },
    {
      "title": {"text": "(b)", "anchor": "start", "frame": "group", "dx": -57, "dy": 16,
        "font": "Liberation Serif", "fontSize": 18, "fontWeight": "bold", "color": "#000000", "offset": 0},
      "vconcat": [
        {
          "width": 164,
          "height": 838,
          "title": {"text": "PCA of Toad Phenotypes (Colored by Altitude)", "anchor": "start", "frame": "group",
            "dx": -34, "offset": 6, "font": "Liberation Sans", "fontSize": 11, "fontWeight": "bold", "color": "#000000"},
          "layer": [
            {
              "data": {"name": "altpts"},
              "mark": {"type": "circle", "size": 24, "opacity": 0.7},
              "encoding": {
                "x": {"field": "x", "type": "quantitative", "title": "PC1 (53%)",
                  "scale": {"domain": [-7.31, 8.61], "nice": false, "zero": false},
                  "axis": {"values": [-4, 0, 4, 8], "format": "d"}},
                "y": {"field": "y", "type": "quantitative", "title": "PC2 (13.6%)",
                  "scale": {"domain": [-3.046, 3.336], "nice": false, "zero": false},
                  "axis": {"values": [-3, -2, -1, 0, 1, 2, 3], "format": "d"}},
                "color": {"field": "alt", "type": "nominal",
                  "scale": {"domain": ["2594 m", "3049 m", "3441 m"], "range": ["#00a843", "#ff2020", "#9b5cc8"]},
                  "legend": {"title": "Altitude", "orient": "none", "legendX": 179, "legendY": 390}}
              }
            },
            {
              "data": {"name": "altell"},
              "mark": {"type": "line", "interpolate": "cardinal-closed", "strokeWidth": 1.6},
              "encoding": {
                "x": {"field": "x", "type": "quantitative"},
                "y": {"field": "y", "type": "quantitative"},
                "color": {"field": "alt", "type": "nominal", "legend": null},
                "order": {"field": "t", "type": "quantitative"}
              }
            }
          ]
        }
      ]
    }
  ],
  "resolve": {"scale": {"color": "independent", "x": "independent", "y": "independent"}},
  "config": {
    "font": "Liberation Sans",
    "background": "#ffffff",
    "view": {"stroke": "#8a8a8a", "strokeWidth": 1},
    "axis": {
      "grid": false,
      "domainColor": "#8a8a8a",
      "domainWidth": 1.3,
      "tickColor": "#8a8a8a",
      "tickSize": 3,
      "labelColor": "#5a5a5a",
      "labelFont": "Liberation Sans",
      "labelFontSize": 8,
      "labelPadding": 1.5,
      "titleFont": "Liberation Sans",
      "titleFontSize": 10,
      "titleFontWeight": "normal",
      "titleColor": "#222222",
      "titlePadding": 3
    },
    "legend": {
      "titleFont": "Liberation Sans",
      "titleFontSize": 10,
      "titleFontWeight": "normal",
      "titleColor": "#222222",
      "labelFont": "Liberation Sans",
      "labelFontSize": 8,
      "labelColor": "#333333",
      "labelOffset": 5,
      "symbolType": "M-1,-0.09H1V0.09H-1Z M0.48,0A0.48,0.48 0 1,1 -0.48,0A0.48,0.48 0 1,1 0.48,0Z",
      "symbolSize": 121,
      "symbolStrokeWidth": 0,
      "rowPadding": 3,
      "titlePadding": 6
    }
  }
}
